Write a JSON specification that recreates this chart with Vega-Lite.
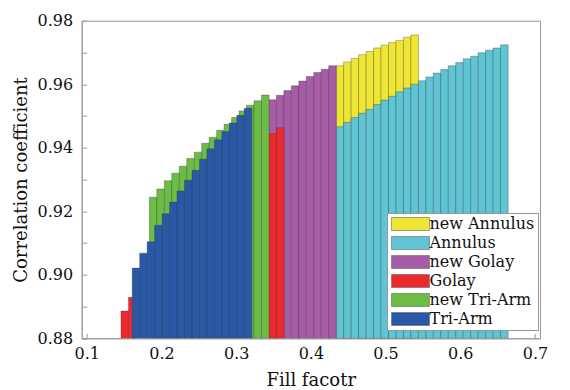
{
  "$schema": "https://vega.github.io/schema/vega-lite/v6.json",
  "width": 458.3,
  "height": 317.6,
  "autosize": {"type": "none"},
  "padding": {"left": 81.7, "top": 20.7, "right": 30, "bottom": 51.7},
  "background": "white",
  "config": {
    "font": "DejaVu Serif",
    "view": {"stroke": "#9a9a9a", "strokeWidth": 1},
    "axis": {
      "labelFont": "DejaVu Serif",
      "titleFont": "DejaVu Serif",
      "labelFontSize": 16,
      "titleFontSize": 18,
      "titleFontWeight": "normal",
      "labelColor": "#111",
      "titleColor": "#111",
      "domainColor": "#9a9a9a",
      "tickColor": "#9a9a9a",
      "grid": false
    }
  },
  "data": {
    "values": [
      {"series": "new Annulus", "fill": 0.439, "r": 0.9658},
      {"series": "new Annulus", "fill": 0.449, "r": 0.9670},
      {"series": "new Annulus", "fill": 0.459, "r": 0.9681},
      {"series": "new Annulus", "fill": 0.469, "r": 0.9693},
      {"series": "new Annulus", "fill": 0.479, "r": 0.9703},
      {"series": "new Annulus", "fill": 0.489, "r": 0.9714},
      {"series": "new Annulus", "fill": 0.499, "r": 0.9723},
      {"series": "new Annulus", "fill": 0.509, "r": 0.9731},
      {"series": "new Annulus", "fill": 0.519, "r": 0.9738},
      {"series": "new Annulus", "fill": 0.529, "r": 0.9748},
      {"series": "new Annulus", "fill": 0.539, "r": 0.9755},
      {"series": "Annulus", "fill": 0.439, "r": 0.9466},
      {"series": "Annulus", "fill": 0.449, "r": 0.9480},
      {"series": "Annulus", "fill": 0.459, "r": 0.9495},
      {"series": "Annulus", "fill": 0.469, "r": 0.9509},
      {"series": "Annulus", "fill": 0.479, "r": 0.9521},
      {"series": "Annulus", "fill": 0.489, "r": 0.9536},
      {"series": "Annulus", "fill": 0.499, "r": 0.9550},
      {"series": "Annulus", "fill": 0.509, "r": 0.9562},
      {"series": "Annulus", "fill": 0.519, "r": 0.9576},
      {"series": "Annulus", "fill": 0.529, "r": 0.9588},
      {"series": "Annulus", "fill": 0.539, "r": 0.9600},
      {"series": "Annulus", "fill": 0.549, "r": 0.9611},
      {"series": "Annulus", "fill": 0.559, "r": 0.9623},
      {"series": "Annulus", "fill": 0.569, "r": 0.9635},
      {"series": "Annulus", "fill": 0.579, "r": 0.9646},
      {"series": "Annulus", "fill": 0.589, "r": 0.9658},
      {"series": "Annulus", "fill": 0.599, "r": 0.9668},
      {"series": "Annulus", "fill": 0.609, "r": 0.9680},
      {"series": "Annulus", "fill": 0.619, "r": 0.9688},
      {"series": "Annulus", "fill": 0.629, "r": 0.9699},
      {"series": "Annulus", "fill": 0.639, "r": 0.9707},
      {"series": "Annulus", "fill": 0.649, "r": 0.9714},
      {"series": "Annulus", "fill": 0.659, "r": 0.9724},
      {"series": "new Golay", "fill": 0.349, "r": 0.9551},
      {"series": "new Golay", "fill": 0.359, "r": 0.9565},
      {"series": "new Golay", "fill": 0.369, "r": 0.9580},
      {"series": "new Golay", "fill": 0.379, "r": 0.9595},
      {"series": "new Golay", "fill": 0.389, "r": 0.9610},
      {"series": "new Golay", "fill": 0.399, "r": 0.9624},
      {"series": "new Golay", "fill": 0.409, "r": 0.9637},
      {"series": "new Golay", "fill": 0.419, "r": 0.9647},
      {"series": "new Golay", "fill": 0.429, "r": 0.9658},
      {"series": "Golay", "fill": 0.151, "r": 0.8886},
      {"series": "Golay", "fill": 0.161, "r": 0.8929},
      {"series": "Golay", "fill": 0.349, "r": 0.9444},
      {"series": "Golay", "fill": 0.359, "r": 0.9463},
      {"series": "new Tri-Arm", "fill": 0.189, "r": 0.9244},
      {"series": "new Tri-Arm", "fill": 0.199, "r": 0.9270},
      {"series": "new Tri-Arm", "fill": 0.209, "r": 0.9296},
      {"series": "new Tri-Arm", "fill": 0.219, "r": 0.9320},
      {"series": "new Tri-Arm", "fill": 0.229, "r": 0.9342},
      {"series": "new Tri-Arm", "fill": 0.239, "r": 0.9366},
      {"series": "new Tri-Arm", "fill": 0.249, "r": 0.9386},
      {"series": "new Tri-Arm", "fill": 0.259, "r": 0.9414},
      {"series": "new Tri-Arm", "fill": 0.269, "r": 0.9433},
      {"series": "new Tri-Arm", "fill": 0.279, "r": 0.9455},
      {"series": "new Tri-Arm", "fill": 0.289, "r": 0.9474},
      {"series": "new Tri-Arm", "fill": 0.299, "r": 0.9495},
      {"series": "new Tri-Arm", "fill": 0.309, "r": 0.9516},
      {"series": "new Tri-Arm", "fill": 0.319, "r": 0.9534},
      {"series": "new Tri-Arm", "fill": 0.329, "r": 0.9548},
      {"series": "new Tri-Arm", "fill": 0.339, "r": 0.9566},
      {"series": "Tri-Arm", "fill": 0.166, "r": 0.9021},
      {"series": "Tri-Arm", "fill": 0.176, "r": 0.9068},
      {"series": "Tri-Arm", "fill": 0.186, "r": 0.9104},
      {"series": "Tri-Arm", "fill": 0.196, "r": 0.9156},
      {"series": "Tri-Arm", "fill": 0.206, "r": 0.9192},
      {"series": "Tri-Arm", "fill": 0.216, "r": 0.9229},
      {"series": "Tri-Arm", "fill": 0.226, "r": 0.9264},
      {"series": "Tri-Arm", "fill": 0.236, "r": 0.9298},
      {"series": "Tri-Arm", "fill": 0.246, "r": 0.9329},
      {"series": "Tri-Arm", "fill": 0.256, "r": 0.9364},
      {"series": "Tri-Arm", "fill": 0.266, "r": 0.9397},
      {"series": "Tri-Arm", "fill": 0.276, "r": 0.9425},
      {"series": "Tri-Arm", "fill": 0.286, "r": 0.9451},
      {"series": "Tri-Arm", "fill": 0.296, "r": 0.9478},
      {"series": "Tri-Arm", "fill": 0.306, "r": 0.9502},
      {"series": "Tri-Arm", "fill": 0.316, "r": 0.9524}
    ]
  },
  "mark": {"type": "bar", "width": 7.64, "stroke": "#333", "strokeWidth": 0.6, "strokeOpacity": 0.55, "clip": true},
  "encoding": {
    "x": {
      "field": "fill", "type": "quantitative",
      "scale": {"domain": [0.1, 0.7], "nice": false, "zero": false},
      "axis": {"title": "Fill facotr", "values": [0.1, 0.2, 0.3, 0.4, 0.5, 0.6, 0.7], "format": ".1f", "tickSize": -5, "labelPadding": 12, "titleX": 229, "titleY": 47, "titleBaseline": "alphabetic"}
    },
    "y": {
      "field": "r", "type": "quantitative",
      "scale": {"domain": [0.88, 0.98], "nice": false, "zero": false},
      "axis": {"title": "Correlation coefficient", "values": [0.88, 0.89, 0.9, 0.91, 0.92, 0.93, 0.94, 0.95, 0.96, 0.97, 0.98], "format": ".2f", "labelExpr": "round(datum.value * 100) % 2 == 0 ? datum.label : ''", "tickSize": -5, "labelPadding": 14, "titleX": -60, "titleY": 158.8, "titleBaseline": "middle", "titleAlign": "center"}
    },
    "y2": {"datum": 0.88},
    "color": {
      "field": "series", "type": "nominal",
      "scale": {
        "domain": ["new Annulus", "Annulus", "new Golay", "Golay", "new Tri-Arm", "Tri-Arm"],
        "range": ["#efe633", "#5fc4d3", "#a65ca6", "#ec2a2e", "#6cbc45", "#2b58a6"]
      },
      "legend": {
        "title": null,
        "orient": "none",
        "legendX": 305.3,
        "legendY": 192.3,
        "symbolType": "M-2.92,-1H2.92V1H-2.92Z",
        "symbolSize": 169,
        "symbolOffset": 12.5,
        "symbolStrokeColor": "#666",
        "symbolStrokeWidth": 0.6,
        "symbolOpacity": 1,
        "labelFont": "DejaVu Serif",
        "labelFontSize": 16,
        "labelColor": "#111",
        "labelOffset": 11,
        "rowPadding": 3,
        "padding": 3,
        "fillColor": "white",
        "strokeColor": "#9a9a9a"
      }
    }
  }
}
